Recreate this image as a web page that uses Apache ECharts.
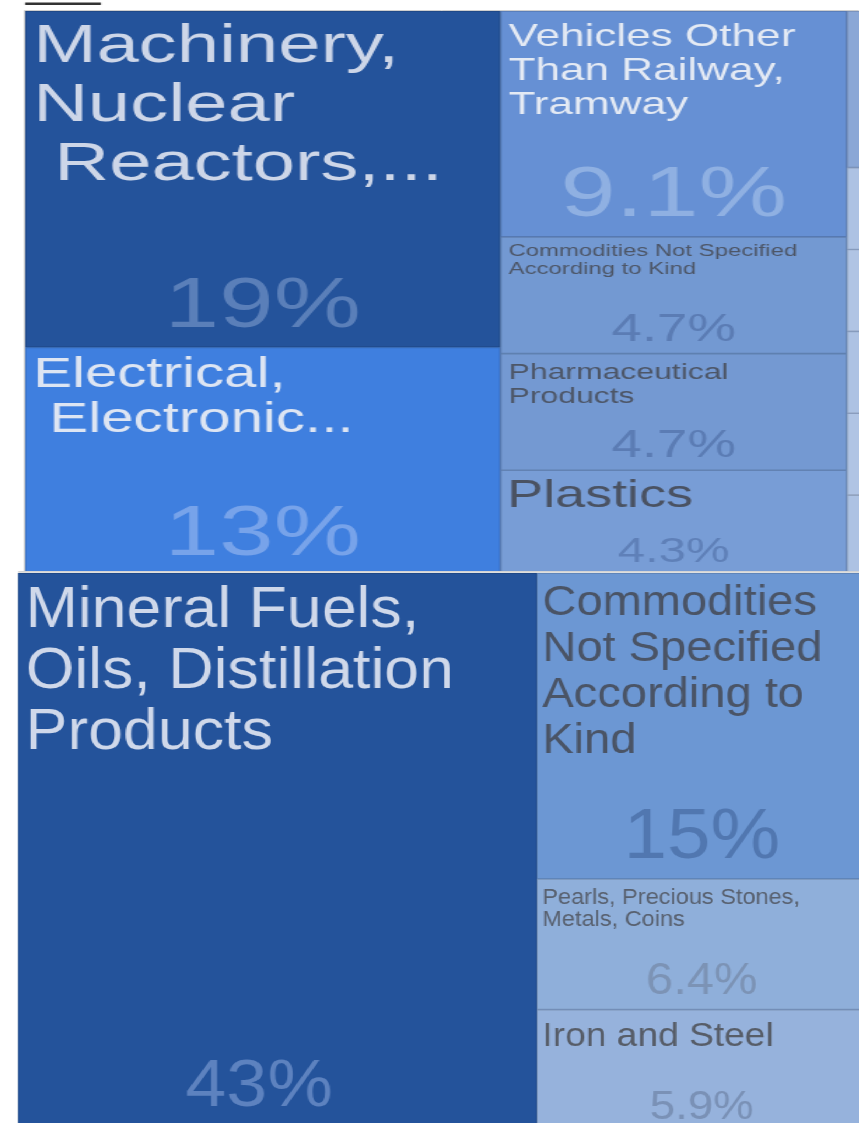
<!DOCTYPE html>
<html>
<head>
<meta charset="utf-8">
<script src="https://cdn.jsdelivr.net/npm/echarts@6/dist/echarts.min.js"></script>
<style>
html,body{margin:0;padding:0;background:#fff;width:859px;height:1123px;overflow:hidden;position:relative;}
#top,#bot{position:absolute;left:0;transform-origin:0 0;}
#bot{background:#fff;}
</style>
</head>
<body>
<div id="top"></div>
<div id="bot"></div>
<script>
// ---------------- data (values are shares in %) ----------------
const topNames = [
  "Machinery, Nuclear Reactors,...",
  "Electrical, Electronic...",
  "Vehicles Other Than Railway, Tramway",
  "Commodities Not Specified According to Kind",
  "Pharmaceutical Products",
  "Plastics",
  "Group 7", "Group 8", "Group 9",
  "Group 10", "Group 11", "Group 12", "Group 13", "Group 14",
  "Remaining groups"
];
const topLabels = [
  "Machinery,\nNuclear\n Reactors,...",
  "Electrical,\n Electronic...",
  "Vehicles Other\nThan Railway,\nTramway",
  "Commodities Not Specified\nAccording to Kind",
  "Pharmaceutical\nProducts",
  "Plastics",
  "", "", "", "", "", "", "", "", ""
];
const topValues = [18.6, 12.7, 9.1, 4.7, 4.7, 4.3, 4.3, 4.2, 4.2, 1.8, 1.8, 1.8, 1.8, 1.8, 24.2];

const botNames = [
  "Mineral Fuels, Oils, Distillation Products",
  "Commodities Not Specified According to Kind",
  "Pearls, Precious Stones, Metals, Coins",
  "Iron and Steel",
  "Remaining groups"
];
const botLabels = [
  "Mineral Fuels,\nOils, Distillation\nProducts",
  "Commodities\nNot Specified\nAccording to\nKind",
  "Pearls, Precious Stones,\nMetals, Coins",
  "Iron and Steel",
  ""
];
const botValues = [43, 15, 6.4, 5.9, 29.7];

// ---------------- styles ----------------
const FONT = "'Liberation Sans', Arial, Helvetica, sans-serif";
const S_TOP = 1.4, S_BOT = 1.1;   // horizontal stretch of each panel
const topStyle = [
  {bg:'#24539b', nc:'#cdd6e8', ns:54.3, lh:59, pt:6, pl:5, pc:'#5a7fb9', ps:70, pb:5},
  {bg:'#3f7fdf', nc:'#dde5f3', ns:41.6, lh:45, pt:5, pl:5, pc:'#77a3ea', ps:70, pb:6},
  {bg:'#6690d4', nc:'#e4eaf4', ns:31.5, lh:34, pt:9, pl:5, pc:'#8fb0e2', ps:71, pb:4.5},
  {bg:'#7399d2', nc:'#4d5667', ns:17.1, lh:18, pt:5, pl:5, pc:'#5b7cb4', ps:39, pb:3.8},
  {bg:'#7499d2', nc:'#4d5667', ns:22.8, lh:24, pt:6, pl:5, pc:'#5b7cb4', ps:39, pb:4.8},
  {bg:'#789dd6', nc:'#4a5262', ns:38.5, lh:42, pt:4, pl:4, pc:'#5f80b8', ps:35, pb:7},
  {bg:'#8aa7d6'}, {bg:'#9fb7de'}, {bg:'#a3badf'},
  {bg:'#adc2e3'}, {bg:'#b0c4e4'}, {bg:'#adc2e3'}, {bg:'#b0c4e4'}, {bg:'#adc2e3'},
  {bg:'#b5c8e6'}
];
const botStyle = [
  {bg:'#24539b', nc:'#cfd8ea', ns:57, lh:61, pt:7, pl:6, pc:'#5d82bf', ps:67, pb:8.5, dx:-16.8},
  {bg:'#6c97d3', nc:'#4a5466', ns:42.8, lh:46, pt:6.5, pl:4, pc:'#5177b0', ps:71, pb:5.5},
  {bg:'#8fafda', nc:'#58606e', ns:21.4, lh:22, pt:7, pl:4, pc:'#7c93b5', ps:44.5, pb:5.5},
  {bg:'#96b2dc', nc:'#575d68', ns:33.8, lh:36, pt:8, pl:4, pc:'#7a91b6', ps:41.5, pb:1.2},
  {bg:'#a9c0e2'}
];

function darker(hex, k) {
  const n = parseInt(hex.slice(1), 16);
  const r = Math.round(((n >> 16) & 255) * k);
  const g = Math.round(((n >> 8) & 255) * k);
  const b = Math.round((n & 255) * k);
  return 'rgb(' + r + ',' + g + ',' + b + ')';
}

function baseSeries(geom, rootBorder) {
  return {
    type: 'treemap',
    left: geom.left, top: geom.top, width: geom.width, height: geom.height,
    roam: false, nodeClick: false, sort: false, silent: true,
    breadcrumb: {show: false},
    animation: false,
    itemStyle: {borderWidth: 0, gapWidth: 0, borderColor: rootBorder},
    levels: [{itemStyle: {borderWidth: 0, gapWidth: 0, borderColor: rootBorder}}],
    emphasis: {disabled: true},
    label: {fontFamily: FONT, overflow: 'none', distance: 0, textBorderWidth: 0}
  };
}

function buildSeries(names, labels, values, styles, geom) {
  const nameSeries = baseSeries(geom, '#5a7ab0');
  nameSeries.label = Object.assign({}, nameSeries.label, {position: 'insideTopLeft'});
  nameSeries.data = values.map((v, i) => {
    const s = styles[i];
    return {
      name: names[i], value: v,
      itemStyle: {color: s.bg, borderColor: darker(s.bg, 0.84), borderWidth: 0.8},
      label: s.ns ? {
        show: true, formatter: labels[i], fontSize: s.ns, lineHeight: s.lh,
        color: s.nc, padding: [s.pt, 0, 0, s.pl], align: 'left', verticalAlign: 'top'
      } : {show: false}
    };
  });
  const pctSeries = baseSeries(geom, 'rgba(0,0,0,0)');
  pctSeries.label = Object.assign({}, pctSeries.label, {position: 'insideBottom'});
  pctSeries.data = values.map((v, i) => {
    const s = styles[i];
    return {
      name: names[i], value: v,
      itemStyle: {color: 'rgba(0,0,0,0)', borderColor: 'rgba(0,0,0,0)', borderWidth: 0},
      label: s.ps ? {
        show: true, formatter: v.toPrecision(2) + '%', fontSize: s.ps, lineHeight: s.ps,
        color: s.pc, padding: [0, 0, s.pb, 0], offset: [s.dx || 0, 0]
      } : {show: false}
    };
  });
  return [nameSeries, pctSeries];
}

// ---------------- top panel ----------------
const topEl = document.getElementById('top');
const topW = 859 / S_TOP;
topEl.style.width = topW + 'px';
topEl.style.height = '571px';
topEl.style.transform = 'scaleX(' + S_TOP + ')';
const topChart = echarts.init(topEl, null, {renderer: 'canvas'});
topChart.setOption({
  animation: false,
  series: buildSeries(topNames, topLabels, topValues, topStyle,
    {left: 25 / S_TOP, top: 11, width: 1519 / S_TOP, height: 566}),
  graphic: [
    {type: 'line', z: 100, shape: {x1: 25 / S_TOP, y1: 3.8, x2: 101 / S_TOP, y2: 3.8},
     style: {stroke: '#333333', lineWidth: 2.5}},
    {type: 'line', z: 100, shape: {x1: 24.5 / S_TOP, y1: 10.5, x2: topW, y2: 10.5},
     style: {stroke: '#cfcfcf', lineWidth: 1}},
    {type: 'line', z: 100, shape: {x1: 24.5 / S_TOP, y1: 10.5, x2: 24.5 / S_TOP, y2: 571},
     style: {stroke: '#c8c8c8', lineWidth: 0.8}}
  ]
});

// ---------------- bottom panel ----------------
const botEl = document.getElementById('bot');
const botW = 859 / S_BOT;
botEl.style.top = '571px';
botEl.style.width = botW + 'px';
botEl.style.height = '552px';
botEl.style.transform = 'scaleX(' + S_BOT + ')';
const botChart = echarts.init(botEl, null, {renderer: 'canvas'});
botChart.setOption({
  animation: false,
  series: buildSeries(botNames, botLabels, botValues, botStyle,
    {left: 18 / S_BOT, top: 2, width: 1207 / S_BOT, height: 557}),
  graphic: [
    {type: 'line', z: 100, shape: {x1: 18 / S_BOT, y1: 0.9, x2: botW, y2: 0.9},
     style: {stroke: '#d4d4d4', lineWidth: 1.6}}
  ]
});
</script>
</body>
</html>
